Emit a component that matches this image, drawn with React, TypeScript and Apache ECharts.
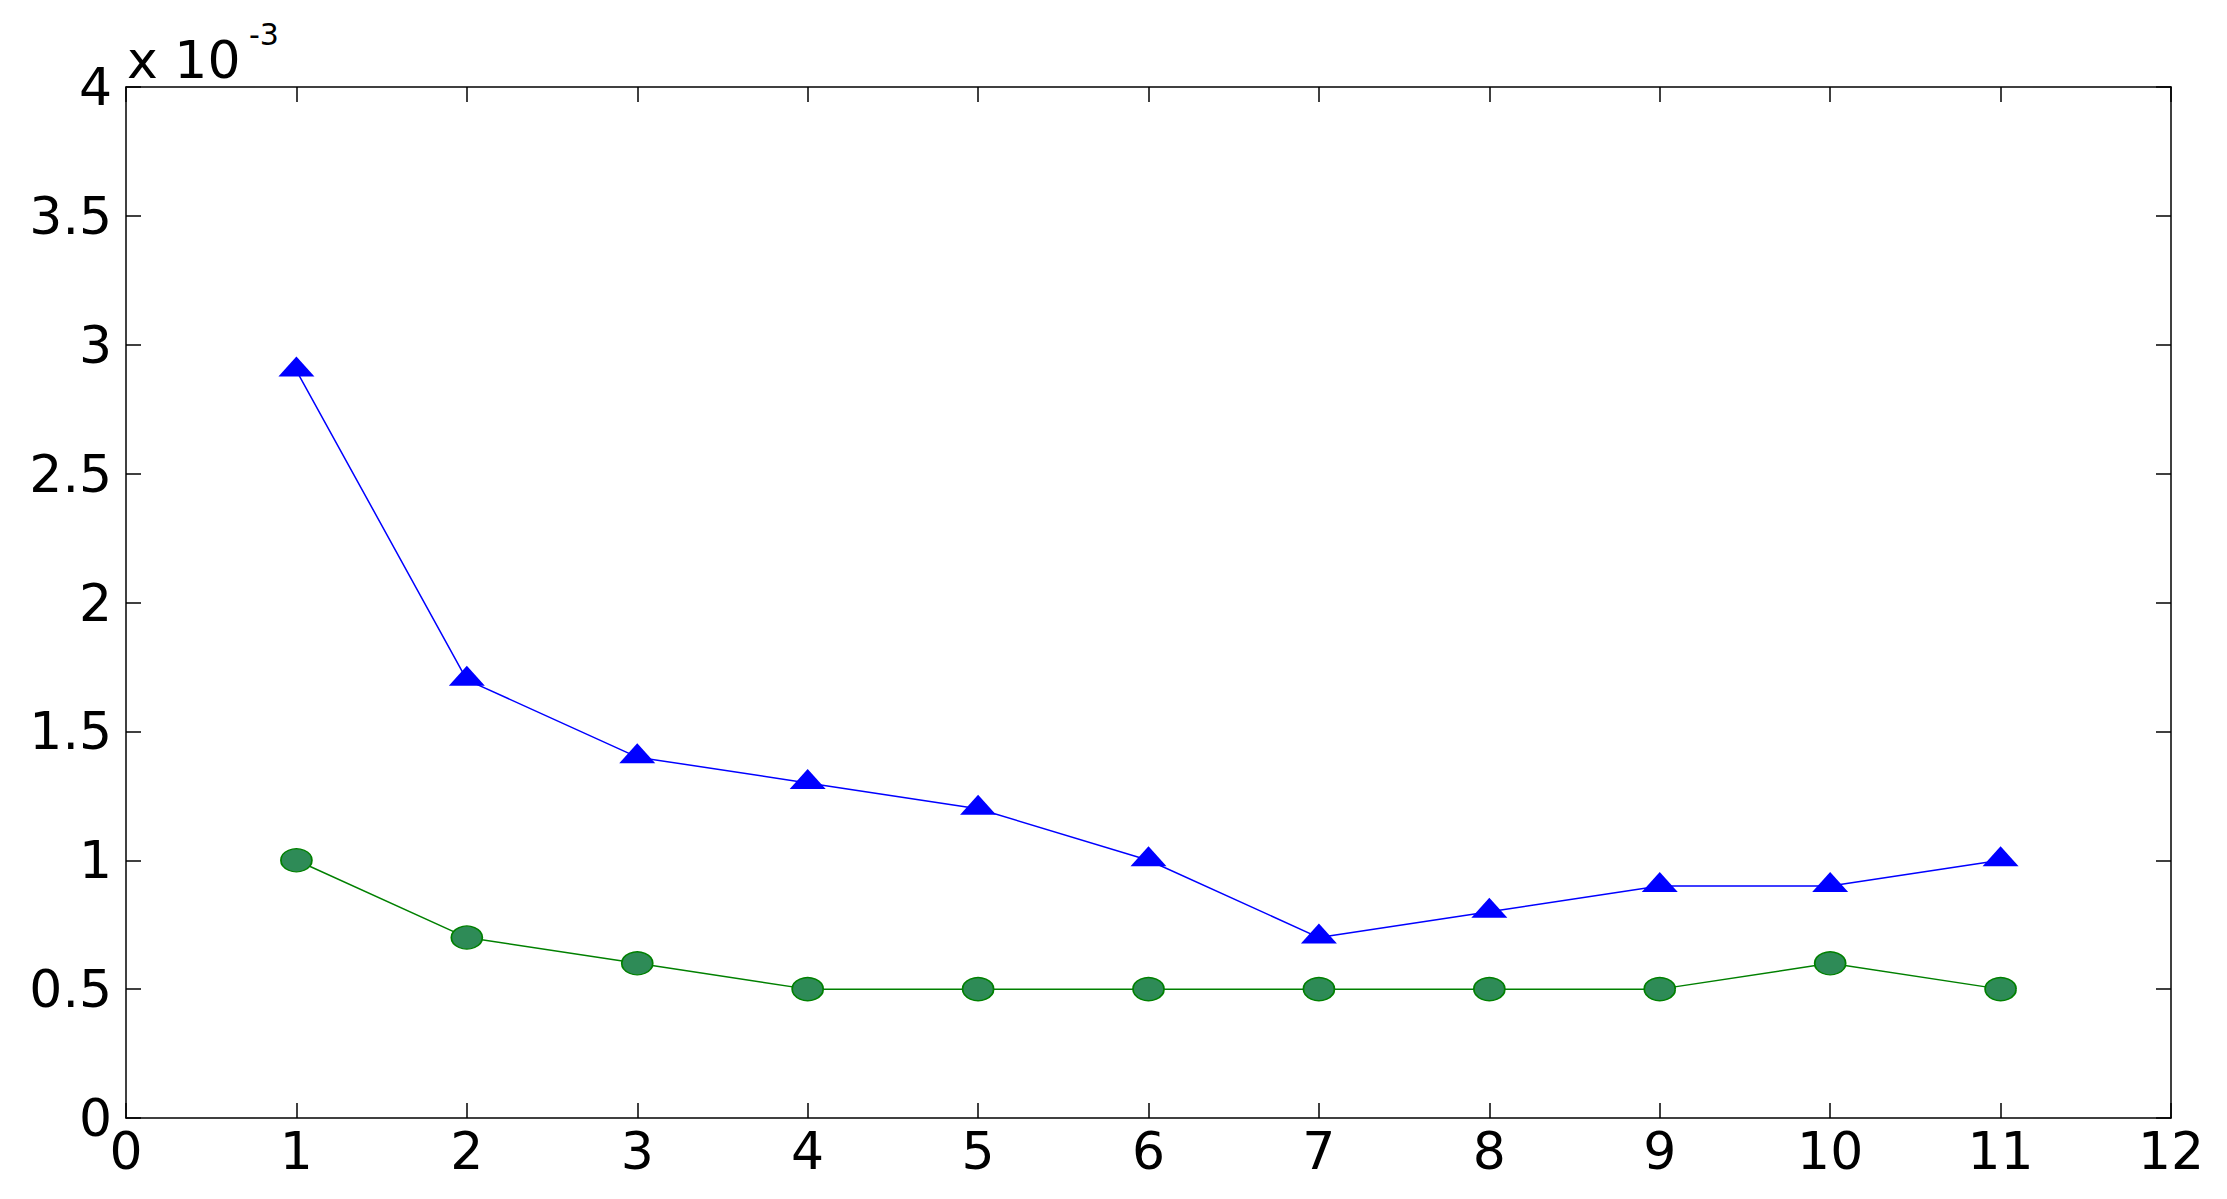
import React, { useEffect, useRef } from "react";
import * as echarts from "echarts";

const xValues = [1, 2, 3, 4, 5, 6, 7, 8, 9, 10, 11];
const blueValues = [2.9, 1.7, 1.4, 1.3, 1.2, 1.0, 0.7, 0.8, 0.9, 0.9, 1.0];
const greenValues = [1.0, 0.7, 0.6, 0.5, 0.5, 0.5, 0.5, 0.5, 0.5, 0.6, 0.5];
const yTickLabels = ["0", "0.5", "1", "1.5", "2", "2.5", "3", "3.5", "4"];

const FONT = "'DejaVu Sans', Arial, sans-serif";

export default function App() {
  const ref = useRef<HTMLDivElement>(null);
  useEffect(() => {
    if (!ref.current) return;
    const chart = echarts.init(ref.current, undefined, { renderer: "svg" });
    const axisLine = { show: true, onZero: false, lineStyle: { color: "#000", width: 1.5 } };
    const tick = { show: true, inside: true, length: 15, lineStyle: { color: "#000", width: 1.5 } };
    const labelStyle = { color: "#000", fontSize: 52, fontFamily: FONT };
    chart.setOption({
      animation: false,
      backgroundColor: "#fff",
      grid: { left: 126, right: 56, top: 87, bottom: 81, containLabel: false },
      xAxis: [
        {
          type: "value", min: 0, max: 12, interval: 1, position: "bottom",
          axisLine, axisTick: tick, splitLine: { show: false },
          axisLabel: { ...labelStyle, margin: 7 },
        },
        {
          type: "value", min: 0, max: 12, interval: 1, position: "top",
          axisLine, axisTick: tick, splitLine: { show: false },
          axisLabel: { show: false },
        },
      ],
      yAxis: [
        {
          type: "value", min: 0, max: 4, interval: 0.5, position: "left",
          axisLine, axisTick: tick, splitLine: { show: false },
          axisLabel: {
            ...labelStyle, margin: 14,
            formatter: (v: number) => yTickLabels[Math.round(v * 2)] ?? String(v),
          },
        },
        {
          type: "value", min: 0, max: 4, interval: 0.5, position: "right",
          axisLine, axisTick: tick, splitLine: { show: false },
          axisLabel: { show: false },
        },
      ],
      graphic: [
        {
          type: "text", x: 127, y: 60,
          style: { text: "x 10", fontSize: 52, fontFamily: FONT, fill: "#000", align: "left", verticalAlign: "middle" },
        },
        {
          type: "text", x: 249, y: 34,
          style: { text: "-3", fontSize: 30, fontFamily: FONT, fill: "#000", align: "left", verticalAlign: "middle" },
        },
      ],
      series: [
        {
          type: "line",
          data: xValues.map((x, i) => [x, blueValues[i]]),
          lineStyle: { color: "#0000ff", width: 1.5 },
          itemStyle: { color: "#0000ff" },
          symbol: "triangle",
          symbolSize: [36, 20],
          symbolOffset: [0, -4],
          z: 3,
        },
        {
          type: "line",
          data: xValues.map((x, i) => [x, greenValues[i]]),
          lineStyle: { color: "#008000", width: 1.5 },
          itemStyle: { color: "#2e8b57", borderColor: "#008000", borderWidth: 1.5 },
          symbol: "circle",
          symbolSize: [31, 23],
          z: 3,
        },
      ],
    });
    return () => chart.dispose();
  }, []);
  return (
    <div
      ref={ref}
      style={{ position: "fixed", left: 0, top: 0, width: 2227, height: 1199, background: "#fff" }}
    />
  );
}
